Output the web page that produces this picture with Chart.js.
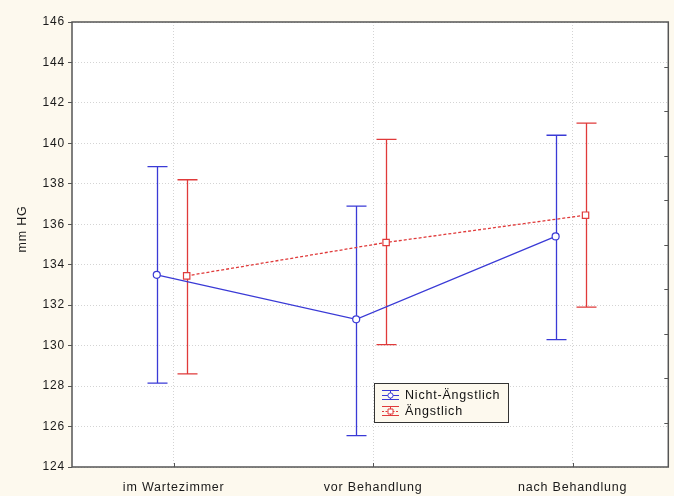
<!DOCTYPE html>
<html>
<head>
<meta charset="utf-8">
<script src="https://cdn.jsdelivr.net/npm/chart.js@4.4.1/dist/chart.umd.min.js"></script>
<style>
  html, body { margin: 0; padding: 0; background: #fdf9ee; }
  #wrap { width: 674px; height: 496px; }
</style>
</head>
<body>
<div id="wrap"><canvas id="bpChart" width="674" height="496"></canvas></div>
<script>
// categories and values (mm HG)
const categories = ['im Wartezimmer', 'vor Behandlung', 'nach Behandlung'];
const seriesNames = ['Nicht-Ängstlich', 'Ängstlich'];

const calmMean  = [133.5, 131.3, 135.4];
const calmUpper = [138.85, 136.9, 140.4];
const calmLower = [128.15, 125.55, 130.3];

const anxMean  = [133.45, 135.1, 136.45];
const anxUpper = [138.2, 140.2, 141.0];
const anxLower = [128.6, 130.05, 131.9];

const yTicks = [124, 126, 128, 130, 132, 134, 136, 138, 140, 142, 144, 146];
const yTitle = 'mm HG';

const BLUE = '#3a3ad6';
const RED = '#e03a3a';
const FONT = '"Liberation Sans", Arial, sans-serif';

// horizontal shift of each series away from the category centre
const calmShift = -0.085;
const anxShift = 0.065;

function toPoints(means, shift) {
    return means.map((v, i) => ({ x: i + shift, y: v }));
}

const errorBars = [
    { upper: calmUpper, lower: calmLower, color: BLUE },
    { upper: anxUpper, lower: anxLower, color: RED }
];

// draws error bars, frame, inner ticks, axis title and the boxed legend
const decorPlugin = {
    id: 'decor',
    beforeDraw(chart) {
        const { ctx, chartArea: a } = chart;
        // the old windows-style text is a bit spread out
        ctx.letterSpacing = '0.8px';
        ctx.save();
        ctx.fillStyle = '#ffffff';
        ctx.fillRect(a.left, a.top, a.right - a.left, a.bottom - a.top);
        ctx.restore();
    },
    beforeDatasetsDraw(chart) {
        const { ctx, scales: { x, y } } = chart;
        ctx.save();
        ctx.lineWidth = 1.3;
        chart.data.datasets.forEach((ds, di) => {
            const eb = errorBars[di];
            ctx.strokeStyle = eb.color;
            ds.data.forEach((p, i) => {
                const px = Math.round(x.getPixelForValue(p.x)) + 0.5;
                const top = y.getPixelForValue(eb.upper[i]);
                const bot = y.getPixelForValue(eb.lower[i]);
                ctx.beginPath();
                ctx.moveTo(px, top); ctx.lineTo(px, bot);
                ctx.moveTo(px - 10, top); ctx.lineTo(px + 10, top);
                ctx.moveTo(px - 10, bot); ctx.lineTo(px + 10, bot);
                ctx.stroke();
            });
        });
        ctx.restore();
    },
    afterDraw(chart) {
        const { ctx, chartArea: a, scales: { x } } = chart;
        ctx.save();
        // frame
        ctx.strokeStyle = '#555555';
        ctx.lineWidth = 1.5;
        ctx.strokeRect(a.left, a.top, a.right - a.left, a.bottom - a.top);

        // inward ticks on bottom axis
        ctx.lineWidth = 1;
        ctx.beginPath();
        x.ticks.forEach(t => {
            const px = Math.round(x.getPixelForValue(t.value)) + 0.5;
            ctx.moveTo(px, a.bottom); ctx.lineTo(px, a.bottom - 4);
        });
        // inward ticks on right side (10 divisions)
        for (let i = 1; i < 10; i++) {
            const py = Math.round(a.top + i * (a.bottom - a.top) / 10) + 0.5;
            ctx.moveTo(a.right, py); ctx.lineTo(a.right - 4, py);
        }
        ctx.stroke();

        // y axis title
        ctx.save();
        ctx.translate(23, 229);
        ctx.rotate(-Math.PI / 2);
        ctx.font = '12.5px ' + FONT;
        ctx.fillStyle = '#1a1a1a';
        ctx.textAlign = 'center';
        ctx.textBaseline = 'middle';
        ctx.fillText(yTitle, 0, 0);
        ctx.restore();

        // legend box
        const lx = 374, ly = 383, lw = 134, lh = 39;
        ctx.fillStyle = '#fdf9ee';
        ctx.fillRect(lx, ly, lw, lh);
        ctx.strokeStyle = '#333333';
        ctx.lineWidth = 1;
        ctx.strokeRect(lx + 0.5, ly + 0.5, lw, lh);

        ctx.font = '12.5px ' + FONT;
        ctx.textBaseline = 'middle';
        seriesNames.forEach((name, i) => {
            const cy = ly + 12 + i * 16;
            const col = i === 0 ? BLUE : RED;
            ctx.strokeStyle = col;
            ctx.lineWidth = 1;
            ctx.setLineDash([]);
            ctx.beginPath();
            ctx.moveTo(382, cy - 4.5); ctx.lineTo(399, cy - 4.5);
            ctx.moveTo(382, cy + 4.5); ctx.lineTo(399, cy + 4.5);
            ctx.moveTo(390.5, cy - 4.5); ctx.lineTo(390.5, cy + 4.5);
            ctx.stroke();
            if (i === 1) ctx.setLineDash([2, 1.5]);
            ctx.beginPath();
            ctx.moveTo(382, cy + 0.5); ctx.lineTo(399, cy + 0.5);
            ctx.stroke();
            ctx.setLineDash([]);
            ctx.fillStyle = '#ffffff';
            ctx.beginPath();
            if (i === 0) ctx.arc(390.5, cy + 0.5, 2.6, 0, Math.PI * 2);
            else ctx.rect(388, cy - 2, 5, 5);
            ctx.fill(); ctx.stroke();
            ctx.fillStyle = '#111111';
            ctx.fillText(name, 405, cy + 0.5);
        });
        ctx.restore();
    }
};

const gridDotted = {
    color: '#d4d4d4',
    lineWidth: 1,
    tickColor: '#555555',
    tickBorderDash: [],
    drawTicks: true
};

new Chart(document.getElementById('bpChart'), {
    type: 'scatter',
    data: {
        datasets: [
            {
                label: seriesNames[0],
                data: toPoints(calmMean, calmShift),
                showLine: true,
                borderColor: BLUE,
                borderWidth: 1.3,
                pointStyle: 'circle',
                pointRadius: 3.5,
                pointBorderWidth: 1.2,
                pointBackgroundColor: '#ffffff',
                pointBorderColor: BLUE
            },
            {
                label: seriesNames[1],
                data: toPoints(anxMean, anxShift),
                showLine: true,
                borderColor: RED,
                borderWidth: 1.3,
                borderDash: [3, 2],
                pointStyle: 'rect',
                pointRadius: 4.5,
                pointBorderWidth: 1.2,
                pointBackgroundColor: '#ffffff',
                pointBorderColor: RED
            }
        ]
    },
    options: {
        responsive: false,
        animation: false,
        layout: { padding: { left: 0, top: 22, right: 4, bottom: 0 } },
        plugins: {
            legend: { display: false },
            tooltip: { enabled: false }
        },
        scales: {
            x: {
                type: 'linear',
                min: -0.51,
                max: 2.48,
                afterBuildTicks: (scale) => {
                    scale.ticks = categories.map((c, i) => ({ value: i }));
                },
                afterFit: (scale) => { scale.height = 29; },
                grid: Object.assign({}, gridDotted, { drawTicks: false }),
                border: { display: false, dash: [1, 2] },
                ticks: {
                    padding: 13,
                    color: '#1a1a1a',
                    font: { family: FONT, size: 12.5 },
                    callback: (v) => categories[v]
                }
            },
            y: {
                min: 124,
                max: 146,
                afterBuildTicks: (scale) => {
                    scale.ticks = yTicks.map(v => ({ value: v }));
                },
                afterFit: (scale) => { scale.width = 72; },
                grid: Object.assign({}, gridDotted, { tickLength: 4 }),
                border: { display: false, dash: [1, 2] },
                ticks: {
                    padding: 3,
                    color: '#1a1a1a',
                    font: { family: FONT, size: 12 }
                }
            }
        }
    },
    plugins: [decorPlugin]
});
</script>
</body>
</html>
